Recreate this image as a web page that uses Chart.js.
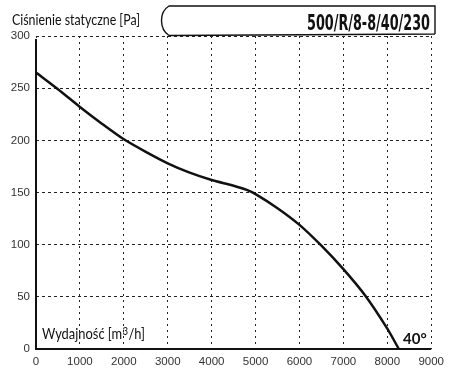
<!DOCTYPE html>
<html><head><meta charset="utf-8">
<script src="https://cdn.jsdelivr.net/npm/chart.js@4"></script>
<style>html,body{margin:0;padding:0;background:#fff}#w{width:450px;height:373px;position:relative}</style>
</head><body><div id="w"><canvas id="c" width="450" height="373"></canvas></div>
<script>
const flowValues = [0, 500, 1000, 1500, 2000, 2500, 3000, 3500, 4000, 4500, 4800, 5000, 5500, 6000, 6500, 7000, 7500, 8000, 8263];
const pressureValues = [265, 249, 232, 216, 201, 189, 178, 169, 162, 156.5, 152.5, 148.5, 135, 119, 99, 76.5, 51, 19.5, 0];
const xTicks = [0, 1000, 2000, 3000, 4000, 5000, 6000, 7000, 8000, 9000];
const yTicks = [0, 50, 100, 150, 200, 250, 300];
const yAxisTitle = "Ciśnienie statyczne [Pa]";
const xAxisTitleParts = ["Wydajność [m", "3", "/h]"];
const modelName = "500/R/8-8/40/230";
const angleLabel = "40°";

// draw text at given font, horizontally scaled to target width
function drawFit(ctx, text, font, x, y, targetW, align){
  ctx.font = font;
  const w = ctx.measureText(text).width;
  const k = Math.min(1.15, targetW / w);
  ctx.save();
  const left = align === 'right' ? x - w * k : x;
  ctx.translate(left, y);
  ctx.scale(k, 1);
  ctx.textAlign = 'left';
  ctx.fillText(text, 0, 0);
  ctx.restore();
}

const deco = {
  id: 'deco',
  afterDraw(chart){
    const ctx = chart.ctx;
    const ca = chart.chartArea;
    ctx.save();
    // axes
    ctx.strokeStyle = '#111'; ctx.lineWidth = 2;
    ctx.beginPath(); ctx.moveTo(ca.left, ca.top + 3); ctx.lineTo(ca.left, ca.bottom); ctx.lineTo(ca.right, ca.bottom); ctx.stroke();
    // title box
    const bx = 161, by = 6, br = 435, bb = 34;
    const path = () => {
      ctx.beginPath();
      ctx.moveTo(br, bb); ctx.lineTo(br, by); ctx.lineTo(bx + 8, by);
      ctx.bezierCurveTo(bx - 2, by + 6, bx - 2, bb - 5, bx + 8, bb + 1.5);
      ctx.lineTo(br, bb);
    };
    ctx.fillStyle = '#fff'; path(); ctx.fill();
    ctx.lineWidth = 1.4; ctx.strokeStyle = '#111'; path(); ctx.stroke();
    // texts
    ctx.fillStyle = '#111'; ctx.textBaseline = 'alphabetic';
    drawFit(ctx, modelName, 'bold 21px "DejaVu Sans Condensed", "DejaVu Sans"', 430, 30, 123, 'right');
    drawFit(ctx, yAxisTitle, 'normal 15px Lato, "Open Sans"', 12, 25, 128, 'left');
    // x axis title with superscript
    ctx.font = 'normal 16px Lato, "Open Sans"';
    const w1 = ctx.measureText(xAxisTitleParts[0]).width;
    ctx.font = 'normal 12px Lato, "Open Sans"';
    const w2 = ctx.measureText(xAxisTitleParts[1]).width;
    ctx.font = 'normal 16px Lato, "Open Sans"';
    const w3 = ctx.measureText(xAxisTitleParts[2]).width;
    const total = w1 + w2 + w3 + 1;
    const k = 103 / total;
    ctx.save();
    ctx.translate(42, 339); ctx.scale(k, 1);
    ctx.textAlign = 'left';
    ctx.font = 'normal 16px Lato, "Open Sans"';
    ctx.fillText(xAxisTitleParts[0], 0, 0);
    ctx.font = 'normal 12px Lato, "Open Sans"';
    ctx.fillText(xAxisTitleParts[1], w1 + 0.5, -4);
    ctx.font = 'normal 16px Lato, "Open Sans"';
    ctx.fillText(xAxisTitleParts[2], w1 + w2 + 1, 0);
    ctx.restore();
    ctx.textAlign = 'left';
    ctx.font = 'bold 15px Lato, "Open Sans"';
    ctx.fillText(angleLabel, 403, 344);
    ctx.restore();
  }
};

new Chart(document.getElementById('c'), {
  type: 'line',
  data: { datasets: [{
    data: flowValues.map((x, i) => ({x, y: pressureValues[i]})),
    borderColor: '#111', borderWidth: 2.5, pointRadius: 0,
    tension: 0.25, fill: false
  }]},
  options: {
    responsive: false, animation: false, devicePixelRatio: 1,
    layout: { padding: { top: 36, right: 15, left: 0, bottom: 0 } },
    plugins: { legend: { display: false }, tooltip: { enabled: false } },
    scales: {
      x: {
        type: 'linear', min: 0, max: 9000,
        afterBuildTicks: s => { s.ticks = xTicks.map(v => ({value: v})); },
        afterFit: s => { s.height = 24; },
        grid: { color: '#222', lineWidth: 1, drawTicks: false },
        border: { display: false, dash: [2, 4] },
        ticks: { color: '#333', font: { family: '"Liberation Sans", Arial', size: 11.5 }, padding: 6, maxRotation: 0, autoSkip: false, callback: v => String(v) }
      },
      y: {
        type: 'linear', min: 0, max: 300,
        afterBuildTicks: s => { s.ticks = yTicks.map(v => ({value: v})); },
        afterFit: s => { s.width = 36; },
        grid: { color: '#222', lineWidth: 1, drawTicks: false },
        border: { display: false, dash: [3, 3] },
        ticks: { color: '#333', font: { family: '"Liberation Sans", Arial', size: 11.5 }, padding: 6, callback: v => String(v) }
      }
    }
  },
  plugins: [deco]
});
</script></body></html>
